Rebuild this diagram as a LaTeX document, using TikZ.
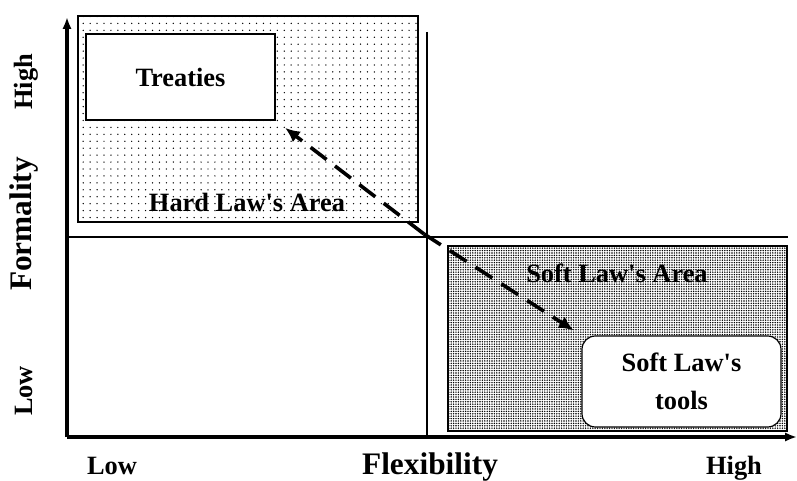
\documentclass[tikz,border=0pt]{standalone}
\usepackage{fontspec}
\setmainfont{Liberation Serif}[Ligatures=TeXOff]
\usetikzlibrary{patterns.meta,arrows.meta}

\begin{document}
\begin{tikzpicture}[x=0.75pt,y=-0.75pt,
    every node/.style={font=\bfseries\fontsize{19.8}{24}\selectfont, inner sep=0pt},
    ttl/.style={font=\bfseries\fontsize{23.5}{26}\selectfont},
    axis/.style={line width=2.4pt},
    quad/.style={line width=1.6pt},
    area/.style={draw, line width=0.8pt},
    box/.style={draw, line width=0.9pt, fill=white},
    flow/.style={line width=2.7pt, dash pattern=on 15pt off 8pt, -{Latex[length=11pt,width=10pt]}}]

    \useasboundingbox (0,0) rectangle (797,481);

    % the two areas
    \node (hla) [area, pattern={Dots[distance=5.2pt,radius=0.55pt]}, minimum width=255pt, minimum height=154.5pt] at (248,119) {};
    \node (sla) [area, pattern={Dots[distance=1.8pt,radius=0.6pt]}, minimum width=254.25pt, minimum height=138.75pt] at (617.5,338.5) {};
    \node (hlt) at (247,202) {Hard Law's Area};
    \node (slt) at (617,273) {Soft Law's Area};

    \node (tr) [box, minimum width=141.75pt, minimum height=64.5pt] at (180.5,77) {Treaties};
    \node (tools) [box, rounded corners=10pt, minimum width=149.25pt, minimum height=68.25pt, align=center] at (681.5,381.5) {Soft Law's\\[4pt]tools};

    % axes and quadrants
    \coordinate (o) at (67,437);
    \coordinate (ytop) at (67,17);
    \coordinate (xend) at (797,437);
    \coordinate (hl) at (67,237);
    \coordinate (hr) at (788,237);
    \coordinate (vt) at (427,32);
    \coordinate (vb) at (427,437);
    \coordinate (mid) at (424,234);

    \draw [quad] (hl) -- (hr);
    \draw [quad] (vt) -- (vb);
    \draw [axis, -{Latex[length=9pt,width=7pt]}] (o) -- (ytop);
    \draw [axis, -{Latex[length=9pt,width=7pt]}] (o) -- (xend);

    \draw [flow, shorten >=9pt] (mid) -- (tr.south east);
    \draw [flow, shorten >=7pt] (mid) -- (tools.north west);

    % labels
    \node (yhi) [rotate=90] at (26,82) {High};
    \node (ylab) [ttl, rotate=90] at (24,224) {Formality};
    \node (ylo) [rotate=90] at (24,391) {Low};
    \node (xlo) [anchor=base] at (112,474) {Low};
    \node (xlab) [ttl, anchor=base] at (430,474) {Flexibility};
    \node (xhi) [anchor=base] at (734,474) {High};

\end{tikzpicture}
\end{document}
